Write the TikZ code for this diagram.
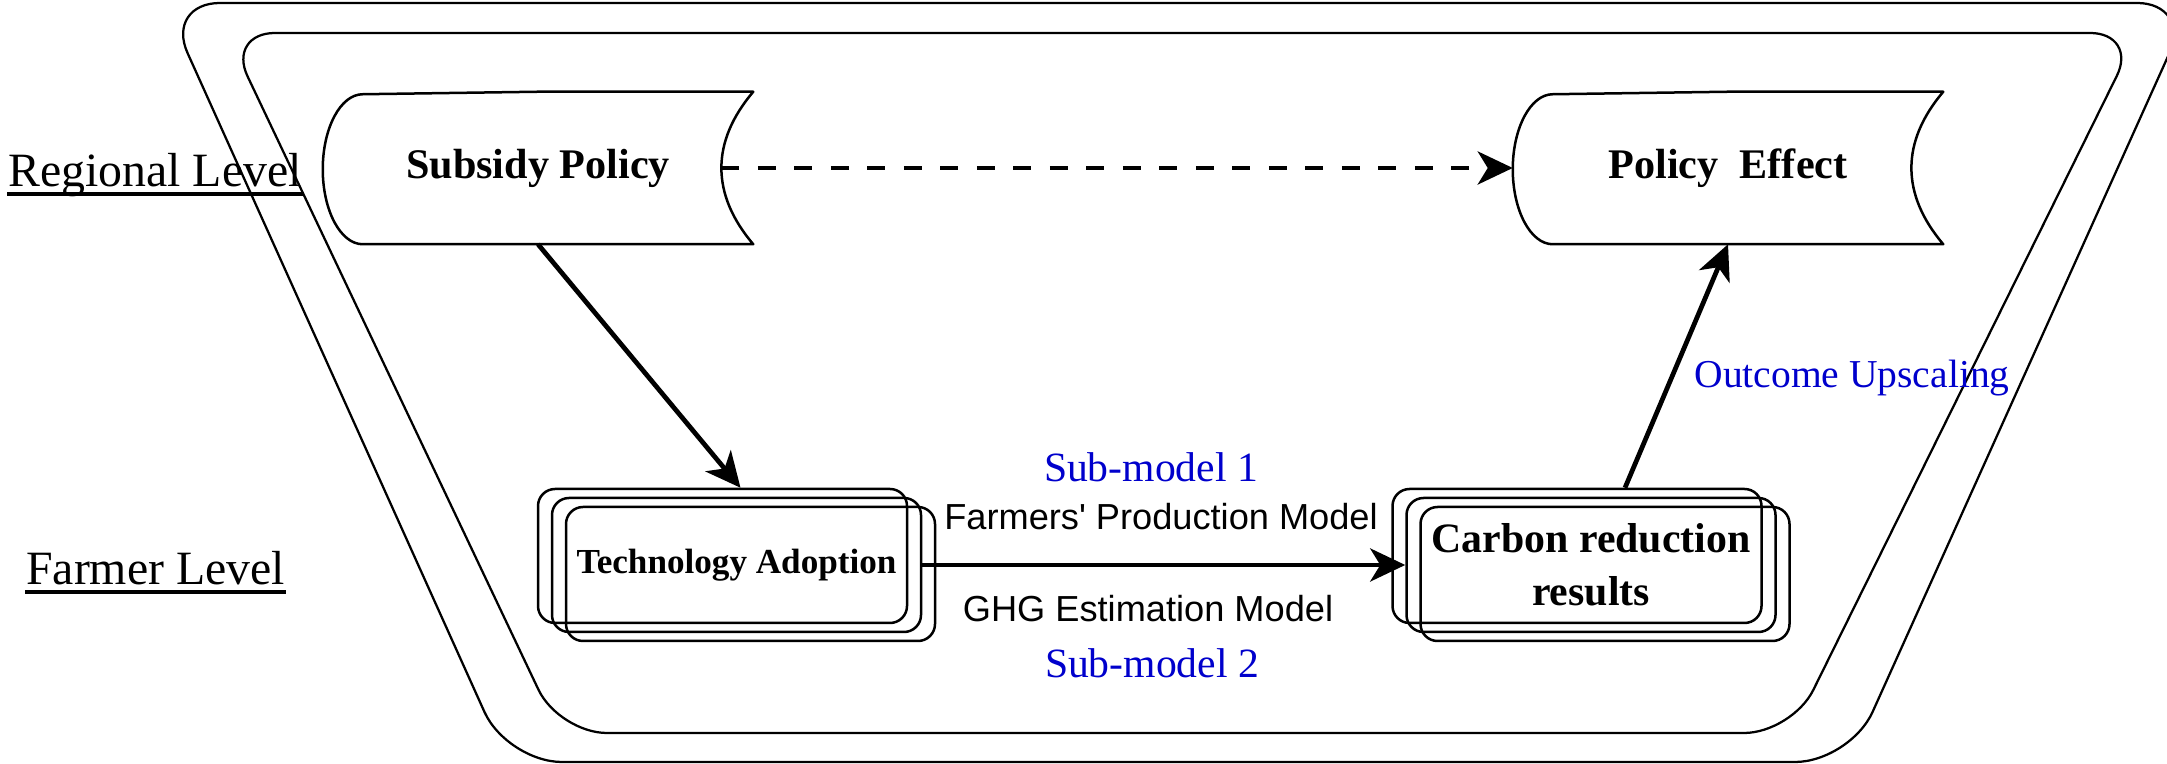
\documentclass[tikz,border=0pt]{standalone}
\usepackage{fontspec}
\setmainfont{Liberation Serif}
\newfontfamily\modelfont{Liberation Sans}
\usepackage{xcolor}
\usepackage{tikz}
\usetikzlibrary{arrows.meta}
\definecolor{subblue}{RGB}{0,0,204}

\newcommand\storageedge[1]{%
  \draw (#1.north) -- (#1.north east)
    .. controls +(-0.85,-1) and +(-0.85,1) .. (#1.south east)
    -- ([xshift=0.8cm]#1.south west)
    arc[start angle=270, end angle=90, x radius=0.8cm, y radius=1.5cm] -- cycle;}

\begin{document}
\begin{tikzpicture}[line width=0.5mm, line join=round,
    storage/.style={minimum width=8.56cm, minimum height=3cm, inner sep=0pt,
      font=\bfseries\fontsize{24}{29}\selectfont},
    stackbox/.style={draw, rounded corners=0.34cm, minimum width=7.38cm,
      minimum height=2.68cm, inner sep=0pt, align=center},
    level/.style={anchor=base west, inner sep=0pt, font=\fontsize{27.2}{32}\selectfont},
    blue label/.style={anchor=base, inner sep=0pt, text=subblue, font=\fontsize{23.7}{28}\selectfont},
    model label/.style={anchor=base, inner sep=0pt, font=\modelfont\fontsize{20.6}{24}\selectfont},
    arr/.style={line width=0.95mm, -{Stealth[length=7mm, width=6.6mm, inset=2mm]}}]
    \useasboundingbox (0,0) rectangle (43.34,15.28);

    \draw[line width=0.45mm, rounded corners=1.1cm]
      (23.5,15.22) -- (43.84,15.22) -- (37.00,0.04) -- (10.14,0.04) -- (3.30,15.22) -- cycle;
    \draw[line width=0.45mm, rounded corners=0.96cm]
      (23.5,14.62) -- (42.76,14.62) -- (35.84,0.62) -- (11.18,0.62) -- (4.54,14.62) -- cycle;

    \node[level] (regional) at (0.14,11.54) {Regional Level};
    \node[level] (farmer) at (0.50,3.58) {Farmer Level};
    \draw[line width=0.66mm] ([yshift=-0.14cm]regional.base west) -- ([yshift=-0.14cm]regional.base east);
    \draw[line width=0.66mm] ([yshift=-0.14cm]farmer.base west) -- ([yshift=-0.14cm]farmer.base east);

    \node[storage] (subsidy) at (10.76,11.92) {Subsidy Policy};
    \node[storage] (effect) at (34.56,11.92) {Policy~~Effect};
    \storageedge{subsidy}
    \storageedge{effect}

    \node[stackbox, font=\bfseries\fontsize{20}{24}\selectfont] (techB) at (14.73,3.98) {Technology Adoption};
    \node[stackbox, xshift=-0.28cm, yshift=0.18cm] (techA) at (techB) {};
    \node[stackbox, xshift=0.28cm, yshift=-0.18cm] (techC) at (techB) {};
    \node[stackbox, font=\bfseries\fontsize{23.8}{30}\selectfont] (carbB) at (31.82,3.98) {Carbon reduction\\results};
    \node[stackbox, xshift=-0.28cm, yshift=0.18cm] (carbA) at (carbB) {};
    \node[stackbox, xshift=0.28cm, yshift=-0.18cm] (carbC) at (carbB) {};

    \node[blue label] (sub1) at (23.02,5.64) {Sub-model 1};
    \node[model label] (farmers) at (23.22,4.68) {Farmers\textquotesingle{} Production Model};
    \node[model label] (ghg) at (22.96,2.84) {GHG Estimation Model};
    \node[blue label] (sub2) at (23.04,1.72) {Sub-model 2};
    \node[blue label, font=\fontsize{22.5}{27}\selectfont] (upscale) at (37.04,7.52) {Outcome Upscaling};

    \draw[arr, dash pattern=on 3.6mm off 3.7mm] ([xshift=-0.64cm]subsidy.east) -- (effect.west);
    \draw[arr] (subsidy.south) -- ([xshift=0.36cm]techA.north);
    \draw[arr] (techB.east) -- (carbB.west);
    \draw[arr] ([xshift=0.96cm]carbA.north) -- (effect.south);
\end{tikzpicture}
\end{document}
